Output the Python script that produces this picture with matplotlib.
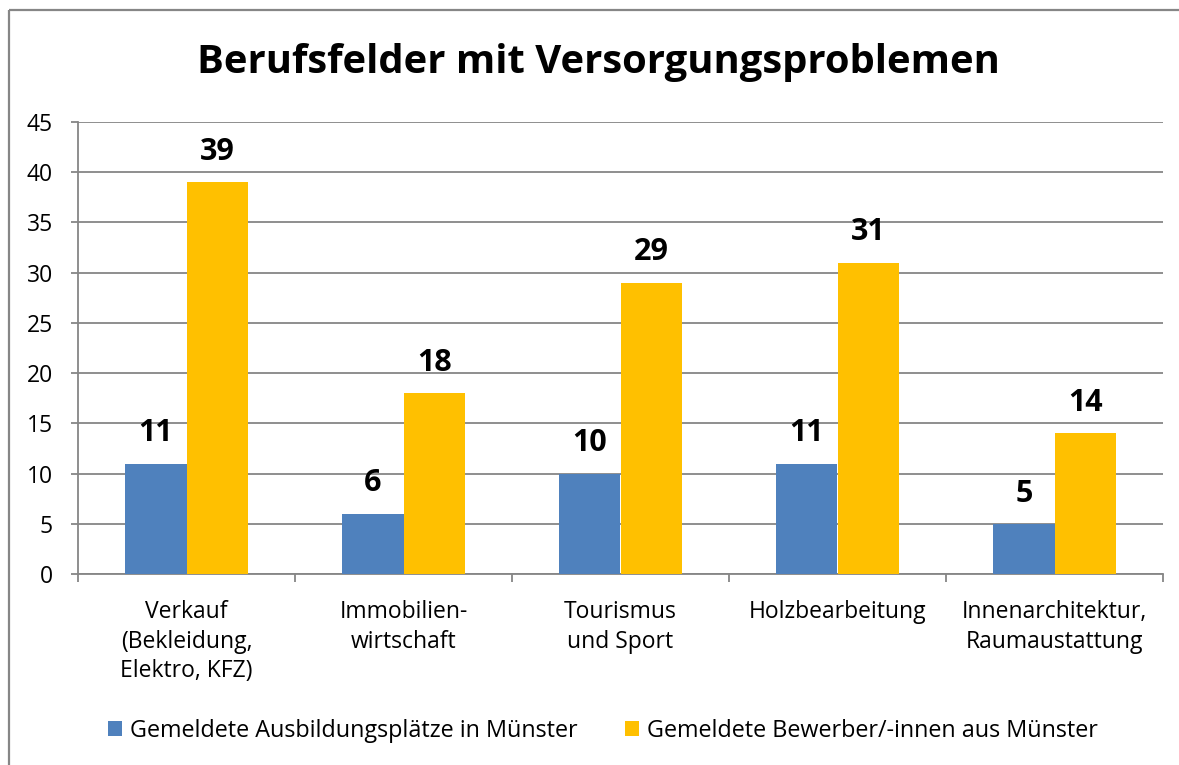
import matplotlib
matplotlib.use("Agg")
import matplotlib.pyplot as plt
import numpy as np
from matplotlib.lines import Line2D

plt.rcParams['font.family'] = ['Open Sans', 'DejaVu Sans']

categories = ["Verkauf\n(Bekleidung,\nElektro, KFZ)", "Immobilien-\nwirtschaft",
              "Tourismus\nund Sport", "Holzbearbeitung",
              "Innenarchitektur,\nRaumaustattung"]
ausbildungsplaetze = [11, 6, 10, 11, 5]
bewerber = [39, 18, 29, 31, 14]
series_names = ["Gemeldete Ausbildungsplätze in Münster",
                "Gemeldete Bewerber/-innen aus Münster"]
title = "Berufsfelder mit Versorgungsproblemen"
y_ticks = list(range(0, 50, 5))

W, H = 1179, 765
fig = plt.figure(figsize=(W / 100, H / 100), dpi=100)

# outer chart frame (left and top edges only)
grey = '#868686'
fx, fy = 9 / W, 1 - 10 / H
fig.add_artist(Line2D([fx, fx], [-0.01, fy], transform=fig.transFigure, color=grey,
                      linewidth=1.6, solid_capstyle='butt'))
fig.add_artist(Line2D([fx, 1.01], [fy, fy], transform=fig.transFigure, color=grey,
                      linewidth=1.6, solid_capstyle='butt'))

ax = fig.add_axes([78 / W, 1 - 574 / H, (1163 - 78) / W, (574 - 122) / H])

blue, gold = '#4F81BD', '#FFC000'
x = np.arange(len(categories))
bw = 0.283
bars1 = ax.bar(x - bw / 2, ausbildungsplaetze, bw, color=blue, zorder=3, label=series_names[0])
bars2 = ax.bar(x + bw / 2, bewerber, bw, color=gold, zorder=3, label=series_names[1])

for bars, vals in ((bars1, ausbildungsplaetze), (bars2, bewerber)):
    for b, v in zip(bars, vals):
        ax.annotate(str(v), (b.get_x() + b.get_width() / 2, v), xytext=(0, 11),
                    textcoords='offset points', ha='center', va='bottom',
                    fontsize=22, fontweight='bold', color='black')

ax.set_xlim(-0.5, len(categories) - 0.5)
ax.set_ylim(0, 45)
ax.set_yticks(y_ticks)
ax.yaxis.grid(True, color=grey, linewidth=1.3, zorder=0)
ax.set_axisbelow(True)
for s in ('top', 'right'):
    ax.spines[s].set_visible(False)
for s in ('left', 'bottom'):
    ax.spines[s].set_color(grey)
    ax.spines[s].set_linewidth(1.3)
ax.tick_params(axis='y', length=5, width=1.3, color=grey, labelsize=16.5, pad=13)

ax.set_xticks(x)
ax.set_xticklabels(categories, fontsize=16.5, linespacing=1.3)
ax.tick_params(axis='x', which='major', length=0, pad=19)
ax.set_xticks(np.arange(-0.5, len(categories)), minor=True)
ax.tick_params(axis='x', which='minor', length=6, width=1.3, color=grey, direction='out')

fig.text(0.508, 1 - 62 / H, title, ha='center', va='center', fontsize=28.8, fontweight='bold')

fig.legend(handles=[bars1, bars2], labels=series_names, loc='center',
           bbox_to_anchor=(603 / W, 1 - 731 / H), ncol=2, frameon=False, fontsize=16.8,
           handlelength=0.6, handleheight=0.6, handletextpad=0.35, columnspacing=2.0,
           borderpad=0.2)

fig.savefig("out.png", dpi=100)
